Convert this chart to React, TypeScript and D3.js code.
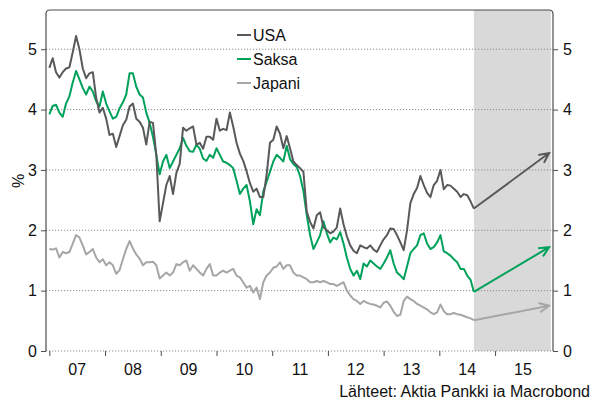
import React, { useEffect, useRef } from 'react'
import * as d3 from 'd3'

// sampled every 0.06 years from the start of 2007
const start = 2007.0
const step = 0.06

const usa = [
  4.69, 4.85, 4.62, 4.53, 4.62, 4.68, 4.70, 4.95, 5.22, 5.00,
  4.68, 4.52, 4.60, 4.62, 4.20, 3.95, 4.03, 3.85, 3.58, 3.60,
  3.38, 3.56, 3.74, 3.83, 4.05, 4.10, 3.85, 3.80, 3.70, 3.42,
  3.80, 3.78, 3.25, 2.15, 2.45, 2.75, 2.90, 2.60, 2.95, 3.10,
  3.70, 3.65, 3.69, 3.72, 3.42, 3.45, 3.35, 3.55, 3.55, 3.50,
  3.85, 3.65, 3.68, 3.66, 3.95, 3.72, 3.45, 3.27, 3.15, 2.98,
  2.78, 2.64, 2.69, 2.55, 2.55, 2.92, 3.45, 3.50, 3.72, 3.60,
  3.36, 3.56, 3.36, 3.14, 3.08, 3.03, 2.97, 2.31, 2.14, 2.03,
  2.25, 2.30, 2.05, 2.00, 1.95, 1.98, 2.05, 2.36, 2.10, 1.90,
  1.75, 1.66, 1.62, 1.75, 1.72, 1.70, 1.75, 1.68, 1.64, 1.75,
  1.85, 1.92, 2.03, 2.02, 1.92, 1.80, 1.67, 2.00, 2.45, 2.60,
  2.70, 2.90, 2.75, 2.62, 2.55, 2.75, 2.82, 3.00, 2.68, 2.75,
  2.74, 2.69, 2.64, 2.55, 2.60, 2.58, 2.48, 2.36,
]

const saksa = [
  3.92, 4.06, 4.08, 3.95, 3.88, 4.10, 4.22, 4.45, 4.64, 4.50,
  4.36, 4.25, 4.38, 4.30, 4.14, 4.05, 4.30, 4.10, 3.97, 3.85,
  3.88, 4.02, 4.12, 4.25, 4.60, 4.60, 4.38, 4.25, 4.20, 3.95,
  3.78, 3.55, 3.25, 2.93, 3.14, 3.25, 3.03, 3.14, 3.25, 3.36,
  3.53, 3.40, 3.31, 3.30, 3.42, 3.35, 3.19, 3.15, 3.25, 3.20,
  3.36, 3.25, 3.14, 3.12, 3.08, 3.03, 2.82, 2.60, 2.69, 2.75,
  2.48, 2.10, 2.35, 2.25, 2.64, 2.80, 2.97, 3.14, 3.25, 3.20,
  3.14, 3.40, 3.18, 3.10, 3.05, 2.90, 2.65, 2.25, 1.92, 1.69,
  1.80, 1.92, 2.15, 1.95, 1.80, 1.88, 1.85, 1.97, 1.78, 1.55,
  1.36, 1.25, 1.33, 1.19, 1.45, 1.40, 1.50, 1.45, 1.40, 1.36,
  1.45, 1.55, 1.67, 1.45, 1.30, 1.25, 1.19, 1.40, 1.62, 1.69,
  1.75, 1.92, 1.95, 1.78, 1.69, 1.72, 1.80, 1.92, 1.65, 1.62,
  1.58, 1.52, 1.47, 1.36, 1.36, 1.25, 1.18, 0.98,
]

const japani = [
  1.69, 1.68, 1.70, 1.55, 1.64, 1.62, 1.64, 1.78, 1.92, 1.88,
  1.75, 1.60, 1.64, 1.69, 1.55, 1.47, 1.52, 1.42, 1.47, 1.42,
  1.28, 1.34, 1.52, 1.69, 1.82, 1.70, 1.60, 1.53, 1.42, 1.47,
  1.47, 1.48, 1.42, 1.20, 1.25, 1.30, 1.25, 1.30, 1.44, 1.42,
  1.47, 1.50, 1.33, 1.42, 1.36, 1.30, 1.25, 1.36, 1.44, 1.25,
  1.25, 1.30, 1.33, 1.30, 1.33, 1.36, 1.25, 1.22, 1.14, 1.05,
  1.08, 0.97, 1.05, 0.86, 1.14, 1.25, 1.30, 1.38, 1.40, 1.47,
  1.36, 1.42, 1.42, 1.30, 1.25, 1.25, 1.22, 1.19, 1.14, 1.14,
  1.16, 1.14, 1.16, 1.14, 1.11, 1.11, 1.08, 1.11, 1.14, 1.00,
  0.92, 0.86, 0.83, 0.78, 0.83, 0.80, 0.78, 0.77, 0.75, 0.72,
  0.80, 0.82, 0.75, 0.65, 0.58, 0.60, 0.83, 0.90, 0.86, 0.83,
  0.78, 0.75, 0.72, 0.69, 0.64, 0.61, 0.64, 0.77, 0.66, 0.61,
  0.61, 0.63, 0.61, 0.60, 0.58, 0.56, 0.54, 0.51,
]

const seriesNames = ['USA', 'Saksa', 'Japani']
const seriesColors = ['#58595b', '#00a15a', '#a6a6a6']
const forecastValues = [3.28, 1.72, 0.75]
const forecastEnd = 2015.97
const shadeStart = 2014.62
const shadeEnd = 2016.0

const yTicks = [0, 1, 2, 3, 4, 5]
const years = [2007, 2008, 2009, 2010, 2011, 2012, 2013, 2014, 2015]
const yearLabels = ['07', '08', '09', '10', '11', '12', '13', '14', '15']

const FONT = 'Arial, "Liberation Sans", sans-serif'

export default function App() {
  const ref = useRef<SVGSVGElement | null>(null)

  useEffect(() => {
    const el = ref.current
    if (!el) return
    const svg = d3.select(el)
    svg.selectAll('*').remove()

    const x = d3.scaleLinear().domain([2006.94, 2016.04]).range([46, 553])
    const y = d3.scaleLinear().domain([0, 5.65]).range([351, 10])
    const top = y.range()[1], bottom = y.range()[0]
    const left = x.range()[0], right = x.range()[1]

    // shaded forecast period
    svg.append('rect')
      .attr('x', x(shadeStart)).attr('y', top)
      .attr('width', x(shadeEnd) - x(shadeStart)).attr('height', bottom - top)
      .attr('fill', '#d9d9d9')

    // dotted gridlines
    svg.append('g').selectAll('line').data(yTicks).join('line')
      .attr('x1', left).attr('x2', right)
      .attr('y1', d => y(d)).attr('y2', d => y(d))
      .attr('stroke', '#8c8c8c').attr('stroke-width', 1)
      .attr('stroke-dasharray', '1.2,1.8')

    // frame: left, top, right with rounded top corners
    const r = 4
    svg.append('path')
      .attr('d', `M${left},${bottom} V${top + r} Q${left},${top} ${left + r},${top} H${right - r} Q${right},${top} ${right},${top + r} V${bottom}`)
      .attr('fill', 'none').attr('stroke', '#4d4d4d').attr('stroke-width', 1.2)

    const ax = d3.axisBottom(x).tickValues(years).tickSize(5).tickFormat(() => '')
    const gx = svg.append('g').attr('transform', `translate(0,${bottom})`).call(ax)
    gx.select('.domain').remove()
    gx.selectAll('line').attr('stroke', '#4d4d4d')

    const fmt = d3.format('d')
    const al = d3.axisLeft(y).tickValues(yTicks).tickSize(5).tickPadding(4).tickFormat(fmt)
    const gl = svg.append('g').attr('transform', `translate(${left},0)`).call(al)
    const ar = d3.axisRight(y).tickValues(yTicks).tickSize(5).tickPadding(5).tickFormat(fmt)
    const gr = svg.append('g').attr('transform', `translate(${right},0)`).call(ar)
    for (const g of [gl, gr]) {
      g.select('.domain').remove()
      g.selectAll('line').attr('stroke', '#4d4d4d')
      g.selectAll('text').attr('font-size', 16).attr('font-family', FONT).attr('fill', '#111')
    }

    svg.append('g').selectAll('text').data(years).join('text')
      .attr('x', d => x(d + 0.5)).attr('y', 375)
      .attr('text-anchor', 'middle').attr('font-size', 16).attr('font-family', FONT)
      .attr('fill', '#111')
      .text((d, i) => yearLabels[i])

    svg.append('text')
      .attr('transform', `translate(24,181) rotate(-90)`)
      .attr('text-anchor', 'middle').attr('font-size', 16).attr('font-family', FONT)
      .attr('fill', '#111').text('%')

    const all = [usa, saksa, japani]
    const line = d3.line<number>().x((d, i) => x(start + i * step)).y(d => y(d))

    // draw Japani first so darker lines sit on top
    for (const k of [2, 1, 0]) {
      const vals = all[k]
      svg.append('path').attr('d', line(vals))
        .attr('fill', 'none').attr('stroke', seriesColors[k])
        .attr('stroke-width', 2).attr('stroke-linejoin', 'round')

      const x0 = x(start + (vals.length - 1) * step), y0 = y(vals[vals.length - 1])
      const x1 = x(forecastEnd), y1 = y(forecastValues[k])
      const ang = Math.atan2(y1 - y0, x1 - x0)
      const hl = 11, ha = 0.45
      svg.append('path')
        .attr('d', `M${x0},${y0} L${x1},${y1} M${x1 - hl * Math.cos(ang - ha)},${y1 - hl * Math.sin(ang - ha)} L${x1},${y1} L${x1 - hl * Math.cos(ang + ha)},${y1 - hl * Math.sin(ang + ha)}`)
        .attr('fill', 'none').attr('stroke', seriesColors[k]).attr('stroke-width', 2)
    }

    // legend
    const lg = svg.append('g')
    seriesNames.forEach((name, i) => {
      const ly = 35 + i * 24
      lg.append('line').attr('x1', 237).attr('x2', 251).attr('y1', ly).attr('y2', ly)
        .attr('stroke', seriesColors[i]).attr('stroke-width', 2)
      lg.append('text').attr('x', 253).attr('y', ly + 6)
        .attr('font-size', 16).attr('font-family', FONT).attr('fill', '#111').text(name)
    })

    svg.append('text')
      .attr('x', 590).attr('y', 397).attr('text-anchor', 'end')
      .attr('font-size', 16).attr('font-family', FONT).attr('fill', '#111')
      .text('Lähteet: Aktia Pankki ia Macrobond')
  }, [])

  return (
    <svg ref={ref} width={592} height={400}
      style={{ position: 'absolute', left: 0, top: 0, background: '#fff' }} />
  )
}
